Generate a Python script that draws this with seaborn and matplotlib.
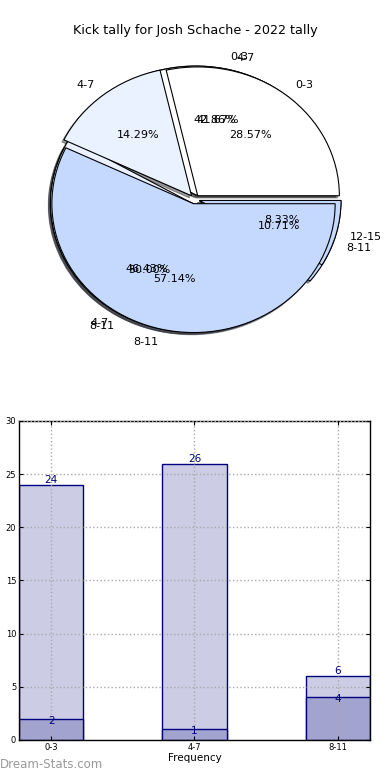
import matplotlib
matplotlib.use("Agg")
import matplotlib.pyplot as plt
import seaborn as sns

# pie data: three overlapping pies drawn on one axes
pie_a_labels = ["0-3", "4-7", "8-11"]
pie_a_values = [24, 26, 6]
pie_c_labels = ["4-7", "8-11", "12-15"]
pie_c_values = [5, 6, 1]
pie_b_labels = ["0-3", "4-7", "8-11"]
pie_b_values = [2, 1, 4]

# bar data
bar_categories = ["0-3", "4-7", "8-11"]
bar_total = [24, 26, 6]
bar_part = [2, 1, 4]

slice_colors = ["#ffffff", "#eaf1ff", "#c5d9ff"]
navy = "#000080"

sns.set_style("white")
plt.rcParams["font.family"] = ["DejaVu Sans"]
plt.rcParams["text.color"] = "black"
plt.rcParams["axes.labelcolor"] = "black"
plt.rcParams["xtick.color"] = "black"
plt.rcParams["ytick.color"] = "black"

fig = plt.figure(figsize=(3.9, 7.8), dpi=100)

# ---- pie ----
ax_pie = fig.add_axes([0.045, 0.538, 0.908, 0.413])
for vals, labs in [(pie_a_values, pie_a_labels),
                   (pie_c_values, pie_c_labels),
                   (pie_b_values, pie_b_labels)]:
    ax_pie.pie(
        vals,
        labels=labs,
        colors=slice_colors,
        explode=[0.035] * len(vals),
        autopct="%1.2f%%",
        shadow={"ox": -0.01, "oy": -0.012, "shade": 0.75},
        wedgeprops={"edgecolor": "black", "linewidth": 0.8},
        textprops={"fontsize": 8, "color": "black"},
    )
ax_pie.set_aspect("auto")
ax_pie.set_xlim(-1.25, 1.25)
ax_pie.set_ylim(-1.25, 1.25)
ax_pie.axis("off")

fig.text(0.5, 0.9615, "Kick tally for Josh Schache - 2022 tally",
         ha="center", va="center", fontsize=9.2, color="black")

# ---- bars ----
ax = fig.add_axes([0.0487, 0.0513, 0.9, 0.409])
sns.barplot(x=bar_categories, y=bar_total, ax=ax, color="#ccccE4",
            saturation=1, width=0.45, edgecolor=navy, linewidth=1)
sns.barplot(x=bar_categories, y=bar_part, ax=ax, color="#a3a3d0",
            saturation=1, width=0.45, edgecolor=navy, linewidth=1)
ax.bar_label(ax.containers[0], color=navy, fontsize=7.5, padding=0)
ax.bar_label(ax.containers[1], color=navy, fontsize=7.5, padding=-5)

ax.set_xlim(-0.225, 2.225)
ax.set_ylim(0, 30)
ax.set_yticks(range(0, 31, 5))
ax.grid(True, linestyle=":", color="#aaaaaa", linewidth=1)
ax.set_axisbelow(False)
for sp in ax.spines.values():
    sp.set_visible(True)
    sp.set_color("black")
    sp.set_linewidth(1)
ax.tick_params(direction="in", length=3, labelsize=6, pad=2,
               top=True, right=True, left=True, bottom=True)
ax.set_xlabel("Frequency", fontsize=7.5, labelpad=1)
ax.set_ylabel("Stat Total Tally", fontsize=7.5)
ax.yaxis.set_label_coords(-0.063, 0.5)

fig.text(0.0, 0.012, "Dream-Stats.com", color="#999999", fontsize=8.5,
         ha="left", va="bottom")

fig.savefig("out.png", dpi=100)
